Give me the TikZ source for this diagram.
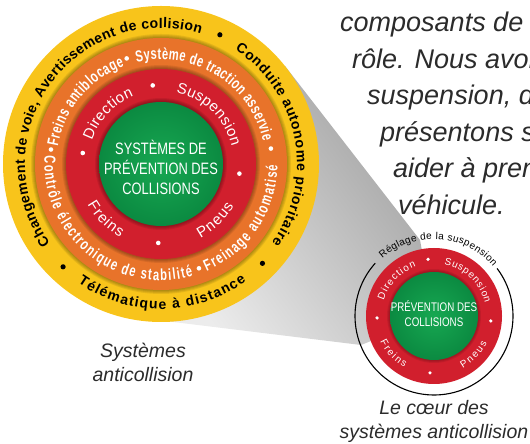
\documentclass[tikz,border=0pt]{standalone}
\usepackage{fontspec}
\setmainfont{Liberation Sans}
\newfontfamily\narrowsans[FakeStretch=0.7]{Liberation Sans}
\newfontfamily\coresans[FakeStretch=0.78]{Liberation Sans}
\usetikzlibrary{decorations.text}

\definecolor{bandyellow}{HTML}{F8C41B}
\definecolor{bandorange}{HTML}{E8732A}
\definecolor{bandred}{HTML}{D11F2D}
\definecolor{coregreen}{HTML}{0B8A41}
\definecolor{coregreenlight}{HTML}{17A852}
\definecolor{inkgray}{HTML}{2B2B2B}

\newcommand{\yellowfont}{\bfseries\fontsize{14}{14}\selectfont}
\newcommand{\orangefont}{\narrowsans\bfseries\fontsize{16}{16}\selectfont}
\newcommand{\redfont}{\fontsize{15}{15}\selectfont}
\newcommand{\minifont}{\fontsize{10}{10}\selectfont}

\tikzstyle{bandtext} = [decorate, 
decoration={text along path, text align={fit to path}}]
\tikzstyle{whitetext} = [decoration={text color=white}]
\tikzstyle{corelabel} = [align=center, 
inner sep=0pt, 
text=white]
\tikzstyle{caption} = [align=center, 
inner sep=0pt, 
text=inkgray, 
font=\itshape\fontsize{19.5}{24}\selectfont]
\tikzstyle{bodyline} = [anchor=base west, 
inner sep=0pt, 
text=inkgray, 
font=\itshape\fontsize{27}{32}\selectfont]

\begin{document}
\begin{tikzpicture}[x=1pt, y=1pt]
\useasboundingbox (0,0) rectangle (530,444);
\clip (0,0) rectangle (530,444);
\coordinate (big) at (161,280);
\coordinate (small) at (434,128);

% grey beam between the two discs
\shade[top color=gray!75, bottom color=gray!15, shading angle=-54] (285,378) -- (420,204) -- (small) -- (361,99) -- (165,123) -- (big) -- cycle;

% big disc
\begin{scope}[shift={(big)}]
\fill[bandyellow] (0,0) circle[radius=158];
\foreach \k in {1,...,4} \fill[black, opacity=0.08] (0,0) circle[radius=126+\k];
\fill[bandorange] (0,0) circle[radius=126];
\foreach \k in {1,...,4} \fill[black, opacity=0.08] (0,0) circle[radius=95+\k];
\fill[bandred] (0,0) circle[radius=95];
\foreach \k in {1,...,4} \fill[black, opacity=0.08] (0,0) circle[radius=62+\k];
\shade[inner color=coregreenlight, outer color=coregreen] (0,0) circle[radius=62];

% outer ring
\path[bandtext, decoration={text={|\yellowfont|Changement de voie, Avertissement de collision}}] (215.5:136) arc[start angle=215.5, end angle=73, radius=136];
\path[bandtext, decoration={text={|\yellowfont|Conduite autonome prioritaire}}] (57:136) arc[start angle=57, end angle=-35.5, radius=136];
\path[bandtext, decoration={text={|\yellowfont|Télématique à distance}}] (235:145) arc[start angle=235, end angle=306, radius=145];
\foreach \a in {65.5,-44.4,226.4} \fill[black] (\a:142) circle[radius=2.6];

% middle ring
\path[bandtext, whitetext, decoration={text={|\orangefont|Freins antiblocage}}] (170.5:104.5) arc[start angle=170.5, end angle=110.5, radius=104.5];
\path[bandtext, whitetext, decoration={text={|\orangefont|Système de traction asservie}}] (103.5:104.5) arc[start angle=103.5, end angle=12.5, radius=104.5];
\path[bandtext, whitetext, decoration={text={|\orangefont|Freinage automatisé}}] (-67:116.5) arc[start angle=-67, end angle=-0.5, radius=116.5];
\path[bandtext, whitetext, decoration={text={|\orangefont|Contrôle électronique de stabilité}}] (176:116.5) arc[start angle=176, end angle=286, radius=116.5];
\foreach \a in {108,8,-70,172.5} \fill[white] (\a:111) circle[radius=2.3];

% inner ring
\path[bandtext, whitetext, decoration={text={|\redfont|Direction}}] (161:73) arc[start angle=161, end angle=112, radius=73];
\path[bandtext, whitetext, decoration={text={|\redfont|Suspension}}] (78:73) arc[start angle=78, end angle=14, radius=73];
\path[bandtext, whitetext, decoration={text={|\redfont|Pneus}}] (-62:84) arc[start angle=-62, end angle=-30, radius=84];
\path[bandtext, whitetext, decoration={text={|\redfont|Freins}}] (209:84) arc[start angle=209, end angle=241, radius=84];
\foreach \a in {96,172,268,353} \fill[white] (\a:79) circle[radius=2.3];
\end{scope}

\node[corelabel, font=\coresans\fontsize{16.5}{20}\selectfont] (core) at (161,277) {SYSTÈMES DE\\PRÉVENTION DES\\COLLISIONS};

% small disc
\begin{scope}[shift={(small)}]
\draw[line width=1.1pt] (37:79) arc[start angle=37, end angle=-222, radius=79];
\fill[bandred] (0,0) circle[radius=68];
\foreach \k in {1,...,3} \fill[black, opacity=0.08] (0,0) circle[radius=44+\k];
\shade[inner color=coregreenlight, outer color=coregreen] (0,0) circle[radius=44];
\path[bandtext, decoration={text={|\minifont|Réglage de la suspension}}] (132:77) arc[start angle=132, end angle=40, radius=77];
\path[bandtext, whitetext, decoration={text={|\minifont|Direction}}] (163:52.5) arc[start angle=163, end angle=110, radius=52.5];
\path[bandtext, whitetext, decoration={text={|\minifont|Suspension}}] (79:52.5) arc[start angle=79, end angle=14, radius=52.5];
\path[bandtext, whitetext, decoration={text={|\minifont|Pneus}}] (-61:59.5) arc[start angle=-61, end angle=-27, radius=59.5];
\path[bandtext, whitetext, decoration={text={|\minifont|Freins}}] (205:59.5) arc[start angle=205, end angle=240, radius=59.5];
\foreach \a in {96,-5,266,182} \fill[white] (\a:57) circle[radius=1.8];
\end{scope}

\node[corelabel, font=\coresans\fontsize{12.5}{15}\selectfont] (smallcore) at (434,130) {PRÉVENTION DES\\COLLISIONS};

% captions
\node[caption] (bigcaption) at (143,81.5) {Systèmes\\anticollision};
\node[caption] (smallcaption) at (434,23) {Le cœur des\\systèmes anticollision};

% paragraph cut by the right edge
\node[bodyline] (line1) at (340,412) {composants de c};
\node[bodyline] (line2) at (352,375.5) {rôle. Nous avon};
\node[bodyline] (line3) at (367,339) {suspension, d};
\node[bodyline] (line4) at (380,302.5) {présentons s};
\node[bodyline] (line5) at (393,266) {aider à pren};
\node[bodyline] (line6) at (398,229.5) {véhicule.};
\end{tikzpicture}
\end{document}
